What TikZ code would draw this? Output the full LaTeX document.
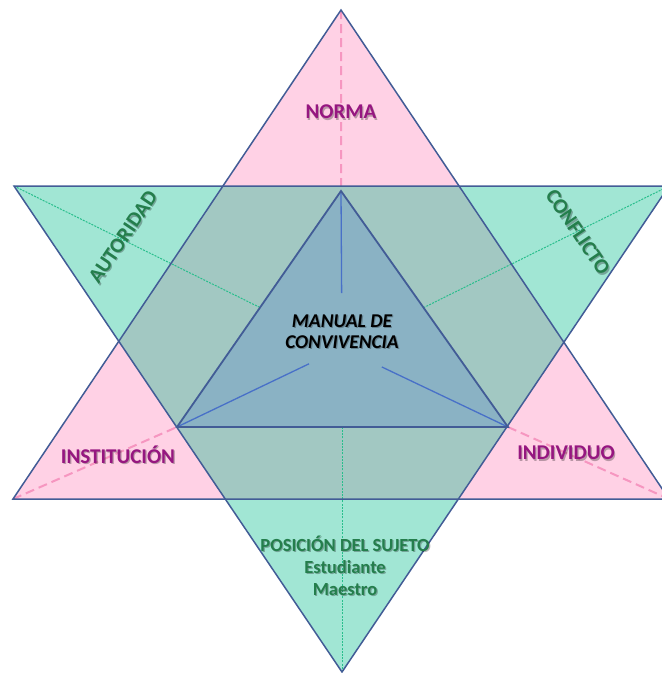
\documentclass[tikz,border=0pt]{standalone}
\usepackage{fontspec}
\setmainfont{Carlito}
\usetikzlibrary{calc}
\definecolor{pinkfill}{RGB}{255,209,229}
\definecolor{greenfill}{RGB}{161,230,212}
\definecolor{overlapfill}{RGB}{162,200,194}
\definecolor{innerfill}{RGB}{138,178,196}
\definecolor{edgecol}{RGB}{66,92,150}
\definecolor{pinkdash}{RGB}{246,150,192}
\definecolor{greendot}{RGB}{40,190,140}
\definecolor{innerline}{RGB}{72,112,200}
\definecolor{purpletext}{RGB}{150,22,128}
\definecolor{greentext}{RGB}{36,126,76}
\begin{document}
\begin{tikzpicture}[x=1pt,y=-1pt,
  edge/.style={draw=edgecol, line width=1.5pt, line join=miter},
  pinkdashed/.style={draw=pinkdash, line width=2pt, dash pattern=on 9pt off 5pt},
  greendotted/.style={draw=greendot, line width=1pt, dash pattern=on 2pt off 1.2pt},
  innerseg/.style={draw=innerline, line width=1.3pt},
  lbl/.style={font=\bfseries\fontsize{21}{23}\selectfont, inner sep=0pt, align=center},
  shade/.style={text=black, opacity=0.28},
  purple/.style={lbl, text=purpletext},
  greenlbl/.style={lbl, text=greentext},
  centrelbl/.style={lbl, font=\bfseries\itshape\fontsize{19.5}{21}\selectfont, text=black},
  subjlbl/.style={greenlbl, font=\bfseries\fontsize{18.5}{22}\selectfont},
]
\useasboundingbox (0,0) rectangle (662,673);
% vertices
\coordinate (P1) at (341,10);
\coordinate (P2) at (13,499);
\coordinate (P3) at (669,499);
\coordinate (G1) at (14,186);
\coordinate (G2) at (669,186);
\coordinate (G3) at (342,672);
\coordinate (I1) at (341,191);
\coordinate (I2) at (177,427);
\coordinate (I3) at (508,427);
\coordinate (Gc) at (342,348);
\coordinate (Ic) at (342,348);
% hexagon
\coordinate (ha) at (intersection of P1--P2 and G1--G2);
\coordinate (hb) at (intersection of P1--P3 and G1--G2);
\coordinate (hc) at (intersection of P1--P3 and G2--G3);
\coordinate (hd) at (intersection of P2--P3 and G2--G3);
\coordinate (he) at (intersection of P2--P3 and G1--G3);
\coordinate (hf) at (intersection of P1--P2 and G1--G3);
% end points of inner marks
\coordinate (gl) at (intersection of G1--Gc and I1--I2);
\coordinate (gr) at (intersection of G2--Gc and I1--I3);
\coordinate (gb) at (intersection of G3--Gc and I2--I3);
\coordinate (ptop) at ($(ha)!0.5!(hb)$);
\coordinate (b1) at ($(I1)!0.65!(Ic)$);
\coordinate (b2) at ($(I2)!0.80!(Ic)$);
\coordinate (b3) at ($(I3)!0.76!(Ic)$);
\begin{scope}
\clip (0,0) rectangle (662,673);
\fill[pinkfill] (P1)--(P2)--(P3)--cycle;
\fill[greenfill] (G1)--(G2)--(G3)--cycle;
\fill[overlapfill] (ha)--(hb)--(hc)--(hd)--(he)--(hf)--cycle;
\fill[innerfill] (I1)--(I2)--(I3)--cycle;
\draw[pinkdashed] (P1)--(ptop);
\draw[pinkdashed] (P2)--(I2);
\draw[pinkdashed] (I3)--(P3);
\draw[greendotted] (G1)--(gl);
\draw[greendotted] (G2)--(gr);
\draw[greendotted] (G3)--(gb);
\draw[innerseg] (I1)--(b1);
\draw[innerseg] (I2)--(b2);
\draw[innerseg] (I3)--(b3);
\draw[edge] (P1)--(P2)--(P3)--cycle;
\draw[edge] (G1)--(G2)--(G3)--cycle;
\draw[edge, line width=1.8pt] (I1)--(I2)--(I3)--cycle;
\end{scope}
% labels with soft shadows
\node[purple, shade] (normaS) at (342.2,113.2) {NORMA};
\node[purple] (norma) at (341,112) {NORMA};
\node[greenlbl, shade, rotate=56] (autS) at (124.2,238.2) {AUTORIDAD};
\node[greenlbl, rotate=56] (aut) at (123,237) {AUTORIDAD};
\node[greenlbl, shade, rotate=-56] (confS) at (579.2,233.2) {CONFLICTO};
\node[greenlbl, rotate=-56] (conf) at (578,232) {CONFLICTO};
\node[centrelbl, shade] (manS) at (343.2,333.2) {MANUAL DE\\CONVIVENCIA};
\node[centrelbl] (man) at (342,332) {MANUAL DE\\CONVIVENCIA};
\node[purple, shade] (instS) at (119.2,456.2) {INSTITUCIÓN};
\node[purple] (inst) at (118,455) {INSTITUCIÓN};
\node[purple, shade] (indS) at (567.2,454.2) {INDIVIDUO};
\node[purple] (ind) at (566,453) {INDIVIDUO};
\node[subjlbl, shade] (posS) at (346.2,567.2) {POSICIÓN DEL SUJETO\\Estudiante\\Maestro};
\node[subjlbl] (pos) at (345,566) {POSICIÓN DEL SUJETO\\Estudiante\\Maestro};
\end{tikzpicture}
\end{document}
